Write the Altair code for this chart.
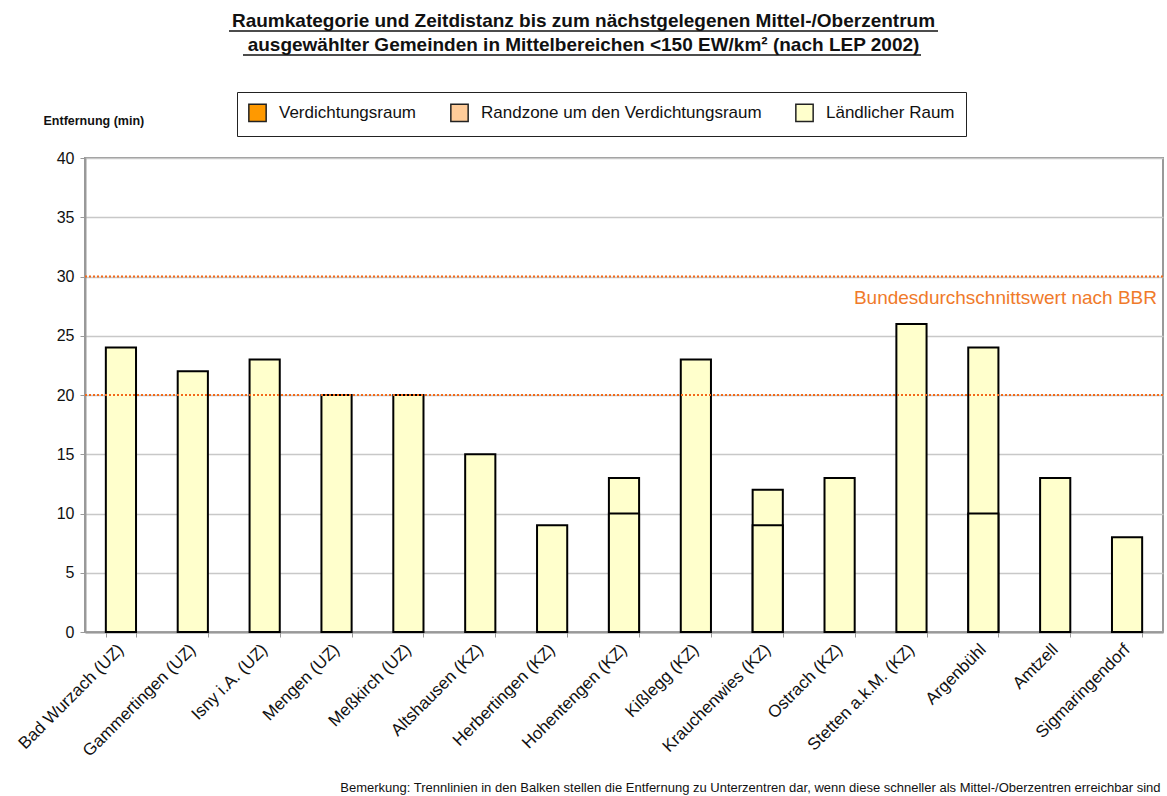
import altair as alt
import pandas as pd

# ---- data ----
orte = ["Bad Wurzach (UZ)", "Gammertingen (UZ)", "Isny i.A. (UZ)", "Mengen (UZ)",
        "Meßkirch (UZ)", "Altshausen (KZ)", "Herbertingen (KZ)", "Hohentengen (KZ)",
        "Kißlegg (KZ)", "Krauchenwies (KZ)", "Ostrach (KZ)", "Stetten a.k.M. (KZ)",
        "Argenbühl", "Amtzell", "Sigmaringendorf"]
entfernung = [24, 22, 23, 20, 20, 15, 9, 13, 23, 12, 13, 26, 24, 13, 8]
trennlinie = [None, None, None, None, None, None, None, 10, None, 9, None, None, 10, None, None]
raum = ["Ländlicher Raum"] * 15

kategorien = ["Verdichtungsraum", "Randzone um den Verdichtungsraum", "Ländlicher Raum"]
kat_farben = ["#FF9900", "#FFCC99", "#FFFFCC"]

referenzwerte = [20, 30]
ref_text = "Bundesdurchschnittswert nach BBR"
ref_text_y = 28.2

titel = ["Raumkategorie und Zeitdistanz bis zum nächstgelegenen Mittel-/Oberzentrum",
         "ausgewählter Gemeinden in Mittelbereichen <150 EW/km² (nach LEP 2002)"]
bemerkung = ("Bemerkung: Trennlinien in den Balken stellen die Entfernung zu Unterzentren dar, "
             "wenn diese schneller als Mittel-/Oberzentren erreichbar sind")

df = pd.DataFrame({"Ort": orte, "Entfernung": entfernung, "Trenn": trennlinie, "Raum": raum})
df_ref = pd.DataFrame({"Wert": referenzwerte})

FONT = "Liberation Sans"
TFONT = "'Liberation Sans Narrow', 'Arial Narrow', 'Liberation Sans', sans-serif"
W, H = 1078, 474
LEFT, TOP = 85, 158

x_enc = alt.X("Ort:N", sort=orte,
              scale=alt.Scale(paddingInner=0.58, paddingOuter=0.29),
              axis=alt.Axis(title=bemerkung, labelAngle=-45, labelFontSize=17,
                            labelColor="#111", tickBand="extent", tickColor="#999",
                            tickSize=5, domainColor="#999", domainWidth=2,
                            labelPadding=4, labelOffset=-6, labelLimit=300,
                            titleFontSize=13, titleFontWeight="normal", titleColor="#111",
                            titleAnchor="end", titleAlign="right", titleX=1075, titleY=155,
                            titleBaseline="middle"))

y_scale = alt.Scale(domain=[0, 40])

bars = alt.Chart(df).mark_bar(stroke="black", strokeWidth=2).encode(
    x=x_enc,
    y=alt.Y("Entfernung:Q", scale=y_scale,
            axis=alt.Axis(values=list(range(0, 41, 5)), labelFontSize=16, labelColor="#111",
                          tickColor="#999", tickSize=5, domainColor="#999", domainWidth=2,
                          gridColor="#c8c8c8", gridWidth=1.5, labelPadding=6,
                          title="Entfernung (min)", titleAngle=0, titleFontWeight="bold",
                          titleFontSize=12.5, titleColor="#111", titleAlign="left",
                          titleX=-42, titleY=-38, titleBaseline="middle")),
    color=alt.Color("Raum:N", scale=alt.Scale(domain=kategorien, range=kat_farben),
                    legend=alt.Legend(title=None, orient="none", legendX=152, legendY=-66,
                                      direction="horizontal", columns=3,
                                      strokeColor="#222", fillColor="white", padding=11,
                                      labelFontSize=17, labelColor="#111", labelFont=FONT,
                                      labelLimit=400,
                                      symbolType="square", symbolSize=300,
                                      symbolStrokeColor="#222", symbolStrokeWidth=1.5,
                                      columnPadding=30, labelOffset=12)),
)

trenn = alt.Chart(df).transform_filter("datum.Trenn != null").mark_bar(
    fill="#FFFFCC", stroke="black", strokeWidth=2).encode(
    x=alt.X("Ort:N", sort=orte), y=alt.Y("Trenn:Q", scale=y_scale))

rules = alt.Chart(df_ref).mark_rule(color="#F26A1B", strokeDash=[2, 2], strokeWidth=2).encode(
    y=alt.Y("Wert:Q", scale=y_scale))

txt = alt.Chart(pd.DataFrame({"t": [ref_text], "y": [ref_text_y]})).mark_text(
    align="right", baseline="middle", fontSize=19, color="#F07A2A", font=FONT).encode(
    x=alt.value(W - 6), y=alt.Y("y:Q", scale=y_scale), text="t:N")

# title lines (underlined)
t1 = alt.Chart(pd.DataFrame({"t": [titel[0]]})).mark_text(
    align="center", baseline="alphabetic", fontSize=19, fontWeight="bold", font=TFONT,
    color="#111").encode(x=alt.value(583.5 - LEFT), y=alt.value(27 - TOP), text="t:N")
t2 = alt.Chart(pd.DataFrame({"t": [titel[1]]})).mark_text(
    align="center", baseline="alphabetic", fontSize=19, fontWeight="bold", font=TFONT,
    color="#111").encode(x=alt.value(583.5 - LEFT), y=alt.value(51 - TOP), text="t:N")
underline = alt.Chart(pd.DataFrame({"a": [0]})).mark_rule(color="#111", strokeWidth=1.5).encode(
    x=alt.value(229 - LEFT), x2=alt.value(938 - LEFT), y=alt.value(31 - TOP))
underline2 = alt.Chart(pd.DataFrame({"a": [0]})).mark_rule(color="#111", strokeWidth=1.5).encode(
    x=alt.value(243 - LEFT), x2=alt.value(921 - LEFT), y=alt.value(55 - TOP))

chart = alt.layer(bars, trenn, rules, txt, t1, t2, underline, underline2).properties(
    width=W, height=H,
    autosize=alt.AutoSizeParams(type="none"),
    padding={"left": LEFT, "top": TOP, "right": 4, "bottom": 164},
).configure(font=FONT).configure_view(stroke="#999", strokeWidth=2)

chart.save("out.html", embed_options={"renderer": "svg", "actions": False})
